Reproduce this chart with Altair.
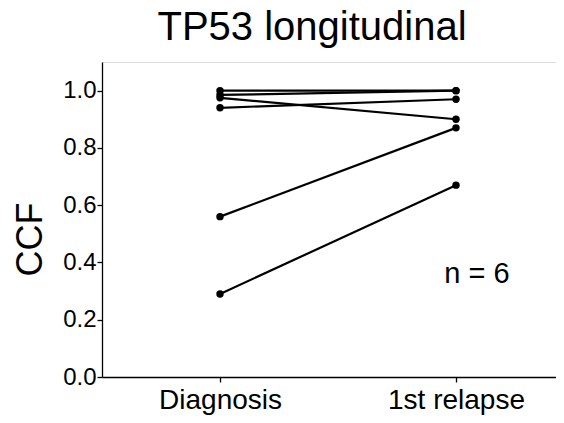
import altair as alt
import pandas as pd

# ---- data ----
timepoints = ["Diagnosis", "1st relapse"]
patients = ["P1", "P2", "P3", "P4", "P5", "P6"]
ccf_diagnosis = [1.00, 0.985, 0.975, 0.94, 0.56, 0.29]
ccf_relapse = [1.00, 1.00, 0.90, 0.97, 0.87, 0.67]
y_ticks = [0.0, 0.2, 0.4, 0.6, 0.8, 1.0]
annotation = "n = 6"

rows = []
for p, d, r in zip(patients, ccf_diagnosis, ccf_relapse):
    rows.append({"patient": p, "time": timepoints[0], "ccf": d})
    rows.append({"patient": p, "time": timepoints[1], "ccf": r})
df = pd.DataFrame(rows)

FONT = "Liberation Sans"

x_enc = alt.X(
    "time:N",
    sort=timepoints,
    scale=alt.Scale(type="point", padding=0.4619, align=0.5413),
    axis=alt.Axis(
        title=None,
        labelFontSize=28,
        labelFont=FONT,
        labelColor="black",
        labelPadding=4,
        labelAngle=0,
        tickSize=5,
        tickColor="black",
        tickWidth=1.3,
        domainColor="black",
        domainWidth=1.3,
        grid=False,
    ),
)
y_enc = alt.Y(
    "ccf:Q",
    scale=alt.Scale(domain=[0, 1.1], nice=False, zero=False),
    axis=alt.Axis(
        title="CCF",
        values=y_ticks,
        format=".1f",
        labelFontSize=24,
        labelFont=FONT,
        labelColor="black",
        labelPadding=1,
        tickSize=5,
        tickColor="black",
        tickWidth=1.3,
        domainColor="black",
        domainWidth=1.3,
        grid=False,
        titleFont=FONT,
        titleFontSize=36,
        titleFontWeight="normal",
        titleColor="black",
        titleAngle=-90,
        titleX=-72,
        titleY=177,
        titleAlign="center",
        titleBaseline="middle",
    ),
)

lines = alt.Chart(df).mark_line(color="black", strokeWidth=2.2).encode(
    x=x_enc, y=y_enc, detail="patient:N"
)
points = alt.Chart(df).mark_circle(color="black", size=55, opacity=1).encode(
    x=x_enc, y=y_enc
)
ann_df = pd.DataFrame({"time": [timepoints[1]], "ccf": [0.33], "label": [annotation]})
text = alt.Chart(ann_df).mark_text(
    fontSize=29, font=FONT, color="black", dx=21, baseline="alphabetic", align="center"
).encode(x=x_enc, y=y_enc, text="label:N")

chart = (
    alt.layer(lines, points, text)
    .properties(
        width=454,
        height=315,
        title=alt.TitleParams(
            "TP53 longitudinal",
            font=FONT,
            fontSize=40,
            fontWeight="normal",
            color="black",
            anchor="middle",
            dx=-17,
            dy=40,
            offset=22,
            baseline="alphabetic",
        ),
        autosize=alt.AutoSizeParams(type="none"),
        padding={"left": 94, "top": 54, "right": 0, "bottom": 38},
    )
    .configure_view(stroke=None)
    .configure(background="white")
)

chart.save("out.html", embed_options={"renderer": "svg", "actions": False})
